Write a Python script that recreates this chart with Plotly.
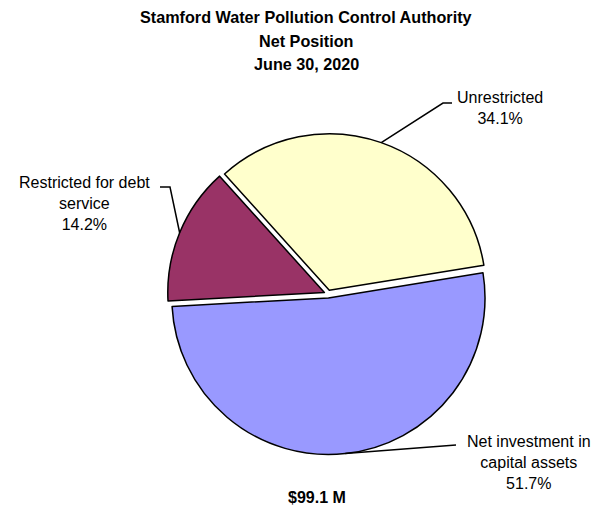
import math
import plotly.graph_objects as go

# ---- data ----
categories = ["Unrestricted", "Net investment in capital assets", "Restricted for debt service"]
label_text = ["Unrestricted<br>34.1%", "Net investment in<br>capital assets<br>51.7%",
              "Restricted for debt<br>service<br>14.2%"]
values = [34.1, 51.7, 14.2]
colors = ["#FFFFCC", "#9999FF", "#993366"]
title_lines = ["Stamford Water Pollution Control Authority", "Net Position", "June 30, 2020"]
total_label = "$99.1 M"

# ---- layout constants (pixels) ----
W, H = 597, 506
CX, CY, HALF = 328, 294, 160.5
PULL = 0.025
ROT = -42  # start of first slice, degrees clockwise from 12 o'clock


def px(x):
    return x / W


def py(y):
    return 1 - y / H


fig = go.Figure(go.Pie(
    labels=categories, values=values, sort=False, direction="clockwise",
    rotation=ROT, pull=[PULL] * 3, textinfo="none", hoverinfo="label+percent",
    marker=dict(colors=colors, line=dict(color="black", width=1.5)),
    domain=dict(x=[px(CX - HALF), px(CX + HALF)], y=[py(CY + HALF), py(CY - HALF)]),
    showlegend=False,
))

# label text placement (pixel centres) and elbow points of leader lines
label_pos = [(500, 108), (529, 462), (85, 203)]
elbow = [[(452, 103), (443, 103)], [(456, 445)], [(160, 187), (170, 187)]]

ann = []
shapes = []
total = sum(values)
start = 90 - ROT  # math angle of first slice start
acc = 0
reach = HALF
for i, v in enumerate(values):
    mid = start - (acc + v / 2) / total * 360
    acc += v
    ax = CX + reach * math.cos(math.radians(mid))
    ay = CY - reach * math.sin(math.radians(mid))
    pts = elbow[i] + [(ax, ay)]
    path = "M " + " L ".join(f"{px(x)},{py(y)}" for x, y in pts)
    shapes.append(dict(type="path", xref="paper", yref="paper", path=path,
                       line=dict(color="black", width=1.5)))
    lx, ly = label_pos[i]
    ann.append(dict(text=label_text[i], x=px(lx), y=py(ly), xref="paper", yref="paper",
                    xanchor="center", yanchor="middle", showarrow=False, align="center",
                    font=dict(family="Liberation Sans, Arial", size=16, color="black")))

for y, t in zip([17, 41, 64], title_lines):
    ann.append(dict(text=f"<b>{t}</b>", x=px(306), y=py(y), xref="paper", yref="paper",
                    xanchor="center", yanchor="middle", showarrow=False,
                    font=dict(family="Liberation Sans, Arial", size=16.2, color="black")))
ann.append(dict(text=f"<b>{total_label}</b>", x=px(317), y=py(497), xref="paper", yref="paper",
                xanchor="center", yanchor="middle", showarrow=False,
                font=dict(family="Liberation Sans, Arial", size=16, color="black")))

fig.update_layout(width=W, height=H, margin=dict(l=0, r=0, t=0, b=0),
                  paper_bgcolor="white", plot_bgcolor="white",
                  annotations=ann, shapes=shapes)
fig.write_html("out.html", config={"displayModeBar": False},
               post_script="document.body.style.margin='0';document.body.style.overflow='hidden';")
